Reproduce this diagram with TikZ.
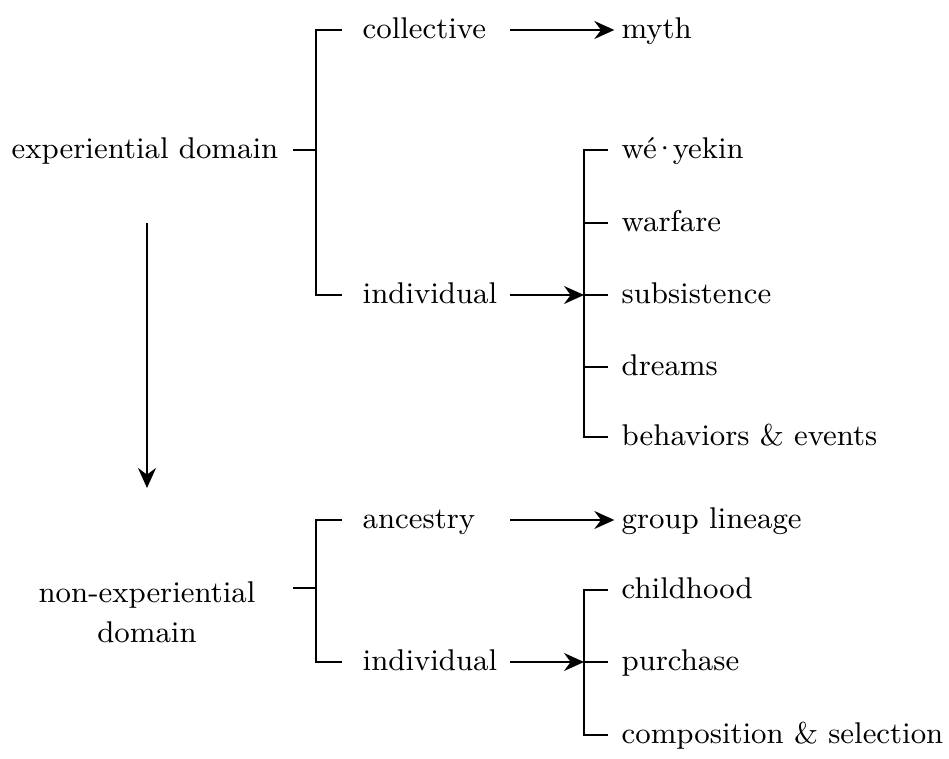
\documentclass[tikz,border=0pt]{standalone}
\usepackage{fontspec}
\usetikzlibrary{arrows.meta,positioning}
\begin{document}
\begin{tikzpicture}[x = 0.3pt, y = -0.3pt,
  every node/.style={font = \fontsize{9}{12}\selectfont, inner sep = 0pt},
  lbl/.style={anchor = west, text height = 1.6ex, text depth = .45ex},
  tree/.style={line width = .6pt},
  arr/.style={line width = .6pt, -{Stealth[length=6pt, width=5.4pt, inset=2pt]}}]
\useasboundingbox (0,0) rectangle (949,759);
% experiential domain
\node[lbl, anchor = center] (exp) at (145,150) {experiential domain};
\coordinate (exps) at (293,150);
\coordinate (expb) at (316,150);
\draw[tree] (exps) -- (expb);
\node[lbl] (coll) at (362,30) {collective};
\node[lbl] (indA) at (362,295) {individual};
\coordinate (collt) at (342,30);
\coordinate (indAt) at (342,295);
\draw[tree] (collt) -- (316,30) -- (316,295) -- (indAt);
\node[lbl] (myth) at (621,30) {myth};
\coordinate (colla) at (510,30);
\draw[arr] (colla) -- ([xshift=-2pt]myth.west);
\node[lbl] (weye) at (621,150) {wé\kern-1.2pt·\kern-1.2pt yekin};
\node[lbl] (warf) at (621,223) {warfare};
\node[lbl] (subs) at (621,295) {subsistence};
\node[lbl] (drea) at (621,367) {dreams};
\node[lbl] (beha) at (621,437) {behaviors \& events};
\coordinate (indAa) at (510,295);
\coordinate (indAb) at (584,295);
\draw[tree] ([xshift=-4pt]weye.west) -- (584,150) -- (584,437) -- ([xshift=-4pt]beha.west);
\draw[tree] (584,223) -- ([xshift=-4pt]warf.west);
\draw[tree] (indAb) -- ([xshift=-4pt]subs.west);
\draw[tree] (584,367) -- ([xshift=-4pt]drea.west);
\draw[arr] (indAa) -- (indAb);
% from one domain to the other
\coordinate (down1) at (147,223);
\coordinate (down2) at (147,488);
\draw[arr] (down1) -- (down2);
% non-experiential domain
\node[align = center] (nonexp) at (147,612) {non-experiential\\domain};
\coordinate (nonexps) at (293,588);
\coordinate (nonexpb) at (316,588);
\draw[tree] (nonexps) -- (nonexpb);
\node[lbl] (ance) at (362,520) {ancestry};
\node[lbl] (indB) at (362,662) {individual};
\coordinate (ancet) at (342,520);
\coordinate (indBt) at (342,662);
\draw[tree] (ancet) -- (316,520) -- (316,662) -- (indBt);
\node[lbl] (line) at (621,520) {group lineage};
\coordinate (ancea) at (510,520);
\draw[arr] (ancea) -- ([xshift=-2pt]line.west);
\node[lbl] (chil) at (621,590) {childhood};
\node[lbl] (purc) at (621,662) {purchase};
\node[lbl] (comp) at (621,735) {composition \& selection};
\coordinate (indBa) at (510,662);
\coordinate (indBb) at (584,662);
\draw[tree] ([xshift=-4pt]chil.west) -- (584,590) -- (584,735) -- ([xshift=-4pt]comp.west);
\draw[tree] (indBb) -- ([xshift=-4pt]purc.west);
\draw[arr] (indBa) -- (indBb);
\end{tikzpicture}
\end{document}
